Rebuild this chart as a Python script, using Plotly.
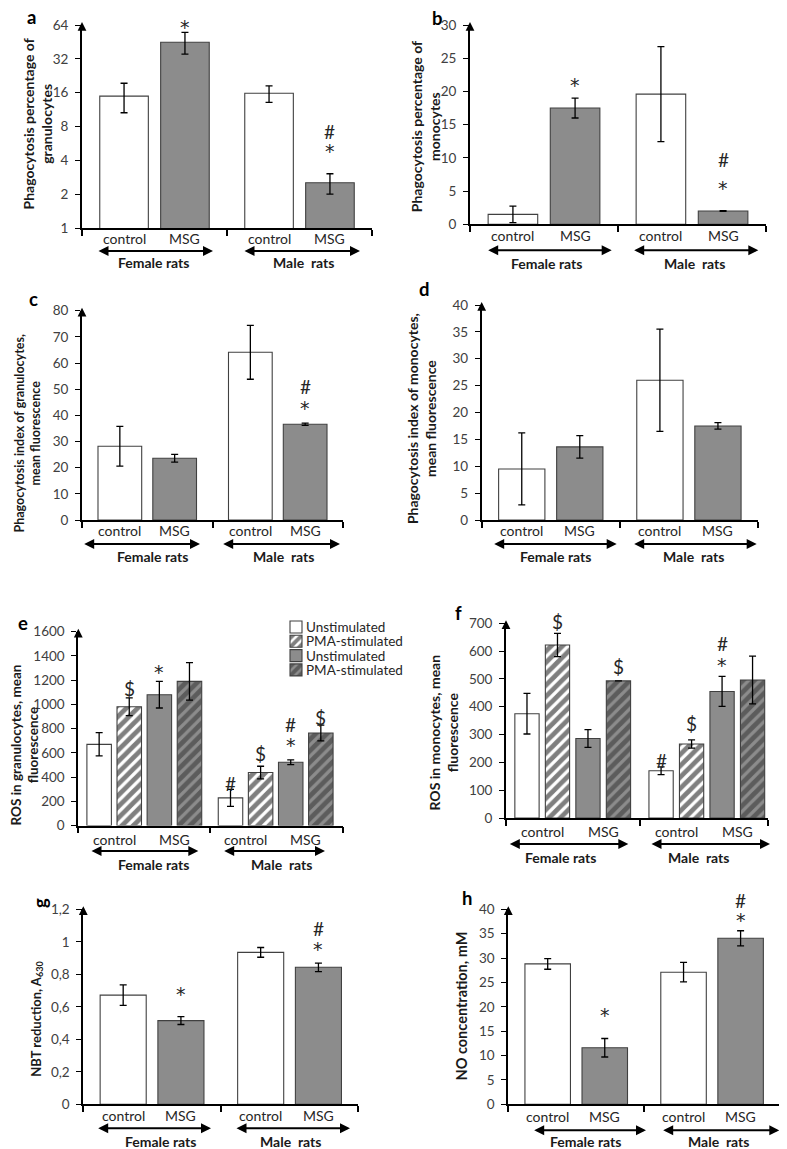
import math
import plotly.graph_objects as go

# browser page offsets the plot by the default 8px body margin; compensate
PAGE_OFF = 8
W, H = 787 - PAGE_OFF, 1149 - PAGE_OFF
FONT = "Lato"
EDGE = "#404040"
GRAY = "#8c8c8c"
HATCH_DARK = "#2b2b2b"
TICK_TXT = "#404040"
TXT = "#1a1a1a"

# ---------------- DATA ----------------
sex_labels = ["Female rats", "Male\u00a0 rats"]
trt_labels = ["control", "MSG"]
legend_names = ["Unstimulated", "PMA-stimulated", "Unstimulated", "PMA-stimulated"]

# a: phagocytosis percentage of granulocytes (log2 axis) [female, male]
a_ctrl = [14.9, 15.8]
a_ctrl_up = [4.5, 2.6]
a_ctrl_dn = [4.3, 2.7]
a_msg = [44.9, 2.53]
a_msg_up = [10.2, 0.51]
a_msg_dn = [9.6, 0.53]
a_ticks = [1, 2, 4, 8, 16, 32, 64]

# b: phagocytosis percentage of monocytes
b_ctrl = [1.5, 19.6]
b_ctrl_err = [1.25, 7.15]
b_msg = [17.5, 2.0]
b_msg_err = [1.5, 0.05]

# c: phagocytosis index of granulocytes
c_ctrl = [28.2, 64.1]
c_ctrl_err = [7.6, 10.3]
c_msg = [23.6, 36.6]
c_msg_err = [1.5, 0.4]

# d: phagocytosis index of monocytes
d_ctrl = [9.5, 26.0]
d_ctrl_err = [6.7, 9.5]
d_msg = [13.6, 17.5]
d_msg_err = [2.1, 0.6]

# e: ROS in granulocytes [female, male] for each of 4 series
e_unst_ctrl = [670, 228]
e_unst_ctrl_err = [96, 70]
e_pma_ctrl = [980, 437]
e_pma_ctrl_err = [73, 52]
e_unst_msg = [1080, 522]
e_unst_msg_err = [110, 20]
e_pma_msg = [1190, 764]
e_pma_msg_err = [155, 65]

# f: ROS in monocytes
f_unst_ctrl = [375, 170]
f_unst_ctrl_err = [73, 14]
f_pma_ctrl = [622, 266]
f_pma_ctrl_err = [42, 15]
f_unst_msg = [286, 455]
f_unst_msg_err = [32, 54]
f_pma_msg = [493, 496]
f_pma_msg_err = [0, 86]

# g: NBT reduction
g_ctrl = [0.672, 0.935]
g_ctrl_err = [0.063, 0.030]
g_msg = [0.515, 0.843]
g_msg_err = [0.024, 0.026]
g_ticks = [0, 0.2, 0.4, 0.6, 0.8, 1.0, 1.2]
g_ticktext = ["0", "0,2", "0,4", "0,6", "0,8", "1", "1,2"]

# h: NO concentration
h_ctrl = [28.8, 27.1]
h_ctrl_err = [1.1, 2.0]
h_msg = [11.6, 34.05]
h_msg_err = [1.9, 1.55]

# significance marks: (symbol, series index, sex index, y value)
a_marks = [("*", 1, 0, 65.0), ("#", 1, 1, 7.2), ("*", 1, 1, 5.1)]
b_marks = [("*", 1, 0, 21.4), ("#", 1, 1, 9.7), ("*", 1, 1, 5.9)]
c_marks = [("#", 1, 1, 51.0), ("*", 1, 1, 44.0)]
d_marks = []
e_marks = [("$", 1, 0, 1127), ("*", 2, 0, 1292), ("#", 0, 1, 349), ("$", 1, 1, 591),
           ("#", 2, 1, 833), ("*", 2, 1, 687), ("$", 3, 1, 893)]
f_marks = [("$", 1, 0, 706), ("$", 3, 0, 544), ("#", 0, 1, 205), ("$", 1, 1, 340),
           ("#", 2, 1, 628), ("*", 2, 1, 562)]
g_marks = [("*", 1, 0, 0.70), ("#", 1, 1, 1.083), ("*", 1, 1, 0.974)]
h_marks = [("*", 1, 0, 19.0), ("#", 1, 1, 41.9), ("*", 1, 1, 38.5)]

# ---------------- LAYOUT GEOMETRY (screen pixels) ----------------
geom = {
    "a": dict(x0=82, x1=372, y0=25, y1=228, lab=10, arr=23, grp=35,
              fa=(97, 213), ma=(243, 360), fl=153, ml=303,
              letter=(31, 17, 0), title=(36.5, 124, 14)),
    "b": dict(x0=470, x1=766, y0=25, y1=224.3, lab=11, arr=26, grp=39,
              fa=(486.7, 611.7), ma=(632.7, 758.3), fl=546.7, ml=694,
              letter=(437, 18, 0), title=(425.7, 126.5, 14)),
    "c": dict(x0=82, x1=343, y0=310.7, y1=520, lab=10, arr=24, grp=37,
              fa=(82.7, 200), ma=(221.7, 340), fl=152.7, ml=283.3,
              letter=(33, 299, 0), title=(26.5, 434, 12.5)),
    "d": dict(x0=481.7, x1=758, y0=305, y1=520, lab=11, arr=24, grp=37,
              fa=(492.7, 616.7), ma=(632.7, 756.7), fl=555, ml=693.3,
              letter=(425, 289, 0), title=(420.8, 418.3, 14)),
    "e": dict(x0=78.3, x1=343, y0=631.7, y1=825.5, lab=14, arr=25.5, grp=38.5,
              fa=(90, 198.3), ma=(222.7, 325), fl=153.3, ml=281.7,
              letter=(23, 622.7, 0), title=(24, 745.5, 13.5)),
    "f": dict(x0=506, x1=768.3, y0=623.3, y1=818, lab=13, arr=26, grp=39,
              fa=(508.3, 628.3), ma=(650, 770), fl=560.7, ml=698.3,
              letter=(458.3, 613.3, 0), title=(442.5, 733, 14)),
    "g": dict(x0=83.3, x1=358.3, y0=909.3, y1=1104.3, lab=11, arr=24, grp=37,
              fa=(96.7, 211), ma=(235, 350), fl=160, ml=290,
              letter=(40, 903, -90), title=(36.7, 1019, 13)),
    "h": dict(x0=508.3, x1=780, y0=909.3, y1=1104.3, lab=12, arr=26, grp=37,
              fa=(532.7, 646), ma=(661.7, 779.3), fl=585, ml=718.3,
              letter=(466.7, 898.3, 0), title=(461.7, 1005.8, 14.5)),
}
# legend rows (screen px): swatch centre x, text left x, row centres y
LEG_SW_X = 295
LEG_TXT_X = 304
LEG_ROWS_Y = [627, 641.3, 655.6, 669.9]
LEG_SYM_OFF = 19  # swatch centre offset from legend box left

titles = {
    "a": "Phagocytosis percentage of<br>granulocytes",
    "b": "Phagocytosis percentage of<br>monocytes",
    "c": "Phagocytosis index of granulocytes,<br>mean fluorescence",
    "d": "Phagocytosis index of monocytes,<br>mean fluorescence",
    "e": "ROS in granulocytes, mean<br>fluorescence",
    "f": "ROS in monocytes, mean<br>fluorescence",
    "g": "NBT reduction, A<sub>630</sub>",
    "h": "NO concentration, mM",
}


def pxx(p):
    return (p - PAGE_OFF) / W


def pxy(p):
    return 1 - (p - PAGE_OFF) / H


fig = go.Figure()
order = ["a", "b", "c", "d", "e", "f", "g", "h"]
legend_ids = ["legend", "legend2", "legend3", "legend4"]


def axnames(i):
    if i == 0:
        return "x", "y", "xaxis", "yaxis"
    return f"x{i+1}", f"y{i+1}", f"xaxis{i+1}", f"yaxis{i+1}"


def pos2(s, g):
    return g * 2 + (0.58 if s == 0 else 1.42)


def pos4_e(s, g):
    return g * 3.97 + 0.63 + 0.91 * s


def pos4_f(s, g):
    return g * 4.09 + 0.64 + 0.93 * s


def err_style(arr, arrminus=None):
    d = dict(type="data", array=arr, color="black", thickness=1.3, width=3.5, visible=True)
    if arrminus is not None:
        d["symmetric"] = False
        d["arrayminus"] = arrminus
    return d


styles4 = [
    dict(color="white", line=dict(color=EDGE, width=1.1)),
    dict(color="white", line=dict(color=EDGE, width=1.1),
         pattern=dict(shape="/", fgcolor="black", bgcolor="white", size=8, solidity=0.6)),
    dict(color=GRAY, line=dict(color=EDGE, width=1.1)),
    dict(color=GRAY, line=dict(color=EDGE, width=1.1),
         pattern=dict(shape="/", fgcolor=HATCH_DARK, bgcolor=GRAY, size=8, solidity=0.6)),
]


def add_two(i, ctrl, ctrl_up, msg, msg_up, ctrl_dn=None, msg_dn=None):
    xa, ya, _, _ = axnames(i)
    fig.add_trace(go.Bar(x=[pos2(0, g) for g in range(2)], y=ctrl, width=0.67,
                         marker=styles4[0], error_y=err_style(ctrl_up, ctrl_dn),
                         xaxis=xa, yaxis=ya, showlegend=False, hoverinfo="skip"))
    fig.add_trace(go.Bar(x=[pos2(1, g) for g in range(2)], y=msg, width=0.67,
                         marker=styles4[2], error_y=err_style(msg_up, msg_dn),
                         xaxis=xa, yaxis=ya, showlegend=False, hoverinfo="skip"))


def add_four(i, series, errs, posf, legend):
    xa, ya, _, _ = axnames(i)
    for s in range(4):
        kw = dict(legend=legend_ids[s]) if legend else {}
        fig.add_trace(go.Bar(x=[posf(s, g) for g in range(2)], y=series[s], width=0.74,
                             marker=styles4[s], error_y=err_style(errs[s]),
                             name=" ", showlegend=legend,
                             xaxis=xa, yaxis=ya, hoverinfo="skip", **kw))


add_two(0, a_ctrl, a_ctrl_up, a_msg, a_msg_up, a_ctrl_dn, a_msg_dn)
add_two(1, b_ctrl, b_ctrl_err, b_msg, b_msg_err)
add_two(2, c_ctrl, c_ctrl_err, c_msg, c_msg_err)
add_two(3, d_ctrl, d_ctrl_err, d_msg, d_msg_err)
add_four(4, [e_unst_ctrl, e_pma_ctrl, e_unst_msg, e_pma_msg],
         [e_unst_ctrl_err, e_pma_ctrl_err, e_unst_msg_err, e_pma_msg_err], pos4_e, True)
add_four(5, [f_unst_ctrl, f_pma_ctrl, f_unst_msg, f_pma_msg],
         [f_unst_ctrl_err, f_pma_ctrl_err, f_unst_msg_err, f_pma_msg_err], pos4_f, False)
add_two(6, g_ctrl, g_ctrl_err, g_msg, g_msg_err)
add_two(7, h_ctrl, h_ctrl_err, h_msg, h_msg_err)

yconf = {
    "a": dict(type="log", range=[0, math.log10(64)], tickvals=a_ticks, ticktext=[str(t) for t in a_ticks]),
    "b": dict(range=[0, 30], dtick=5),
    "c": dict(range=[0, 80], dtick=10),
    "d": dict(range=[0, 40], dtick=5),
    "e": dict(range=[0, 1600], dtick=200),
    "f": dict(range=[0, 700], dtick=100),
    "g": dict(range=[0, 1.2], tickvals=g_ticks, ticktext=g_ticktext),
    "h": dict(range=[0, 40], dtick=5),
}
xconf = {
    "a": (4, 2), "b": (4, 2), "c": (4, 2), "d": (4, 2),
    "e": (8, 3.98), "f": (8, 4.09), "g": (4, 2), "h": (4, 2),
}
marks = {"a": a_marks, "b": b_marks, "c": c_marks, "d": d_marks,
         "e": e_marks, "f": f_marks, "g": g_marks, "h": h_marks}
posfun = {"a": pos2, "b": pos2, "c": pos2, "d": pos2,
          "e": pos4_e, "f": pos4_f, "g": pos2, "h": pos2}


def value_to_frac(k, v):
    rng = yconf[k]["range"]
    if yconf[k].get("type") == "log":
        v = math.log10(v)
    return (v - rng[0]) / (rng[1] - rng[0])


annotations = []
layout_axes = {}
for i, k in enumerate(order):
    g = geom[k]
    xa, ya, xl, yl = axnames(i)
    xmax, xdiv = xconf[k]
    layout_axes[xl] = dict(domain=[pxx(g["x0"]), pxx(g["x1"])], range=[0, xmax], anchor=ya,
                           showgrid=False, zeroline=False, showline=True, linecolor="black",
                           linewidth=1.8, ticks="outside", ticklen=6, tickwidth=1.6,
                           tickcolor="black", tickvals=[0, xdiv, xmax], showticklabels=False,
                           fixedrange=True, automargin=False)
    yc = dict(domain=[pxy(g["y1"]), pxy(g["y0"])], anchor=xa, showgrid=False, zeroline=False,
              showline=True, linecolor="black", linewidth=1.8, ticks="outside", ticklen=5,
              tickwidth=1.4, tickcolor="black", ticklabelstandoff=4,
              tickfont=dict(family=FONT, size=13.5, color=TICK_TXT), fixedrange=True,
              automargin=False)
    yc.update(yconf[k])
    layout_axes[yl] = yc

    # y-axis arrowhead
    hpx = g["y1"] - g["y0"]
    annotations.append(dict(xref=f"{xa} domain", yref=f"{ya} domain", x=0, y=1 + 3 / hpx,
                            ax=0, ay=9, axref="pixel", ayref="pixel", text="", showarrow=True,
                            arrowhead=2, arrowsize=1.1, arrowwidth=1.6, arrowcolor="black",
                            standoff=0, startstandoff=0))

    # category labels
    pf = posfun[k]
    for gi in range(2):
        if k in ("e", "f"):
            xs = [(pf(0, gi) + pf(1, gi)) / 2, (pf(2, gi) + pf(3, gi)) / 2]
        else:
            xs = [pf(0, gi), pf(1, gi)]
        for t, xv in enumerate(xs):
            annotations.append(dict(xref=xa, yref="paper", x=xv, y=pxy(g["y1"] + g["lab"]),
                                    text=trt_labels[t], showarrow=False, yanchor="middle",
                                    xanchor="center",
                                    font=dict(family=FONT, size=14, color="#262626")))

    # double arrows + group labels
    ya_px = g["y1"] + g["arr"]
    for (s0, s1) in (g["fa"], g["ma"]):
        annotations.append(dict(xref="paper", yref="paper", x=pxx(s1), y=pxy(ya_px),
                                ax=-(s1 - s0), ay=0, axref="pixel", ayref="pixel", text="",
                                showarrow=True, arrowside="end+start", arrowhead=2,
                                arrowsize=1.0, arrowwidth=2.0, arrowcolor="black",
                                standoff=0, startstandoff=0))
    for lab, cx in zip(sex_labels, (g["fl"], g["ml"])):
        annotations.append(dict(xref="paper", yref="paper", x=pxx(cx), y=pxy(g["y1"] + g["grp"]),
                                text=f"<b>{lab}</b>", showarrow=False, yanchor="middle",
                                xanchor="center",
                                font=dict(family=FONT, size=14, color=TXT)))

    # panel letter
    lx, ly, lang = g["letter"]
    annotations.append(dict(xref="paper", yref="paper", x=pxx(lx), y=pxy(ly),
                            text=f"<b>{k}</b>", showarrow=False, textangle=lang,
                            xanchor="center", yanchor="middle",
                            font=dict(family=FONT, size=18.5, color="black")))

    # y-axis title
    tx, ty, ts = g["title"]
    annotations.append(dict(xref="paper", yref="paper", x=pxx(tx), y=pxy(ty),
                            text=f"<b>{titles[k]}</b>", showarrow=False, textangle=-90,
                            xanchor="center", yanchor="middle",
                            font=dict(family=FONT, size=ts, color=TXT)))

    # significance marks (placed via the y domain so they can sit above the axis top)
    for sym, s, gi, yv in marks[k]:
        star = sym == "*"
        annotations.append(dict(xref=xa, yref=f"{ya} domain", x=pf(s, gi),
                                y=value_to_frac(k, yv), text=sym,
                                showarrow=False, yanchor="middle", xanchor="center",
                                yshift=-3 if star else 0,
                                font=dict(family="DejaVu Sans" if star else FONT,
                                          size=19, color="#262626")))

# legend texts (the swatches come from the four single-item legends)
legends = {}
for s, ry in enumerate(LEG_ROWS_Y):
    annotations.append(dict(xref="paper", yref="paper", x=pxx(LEG_TXT_X), y=pxy(ry),
                            text=legend_names[s], showarrow=False, xanchor="left",
                            yanchor="middle",
                            font=dict(family=FONT, size=13.5, color="#262626")))
    legends[legend_ids[s]] = dict(x=pxx(LEG_SW_X - LEG_SYM_OFF), y=pxy(ry),
                                  xanchor="left", yanchor="middle",
                                  bgcolor="rgba(0,0,0,0)", borderwidth=0, itemwidth=30,
                                  font=dict(family=FONT, size=10, color="#262626"))

fig.update_layout(
    width=W, height=H,
    margin=dict(l=0, r=0, t=0, b=0, autoexpand=False),
    paper_bgcolor="white", plot_bgcolor="white",
    barmode="overlay",
    annotations=annotations,
    font=dict(family=FONT),
    **legends,
    **layout_axes,
)

fig.write_html("out.html")
